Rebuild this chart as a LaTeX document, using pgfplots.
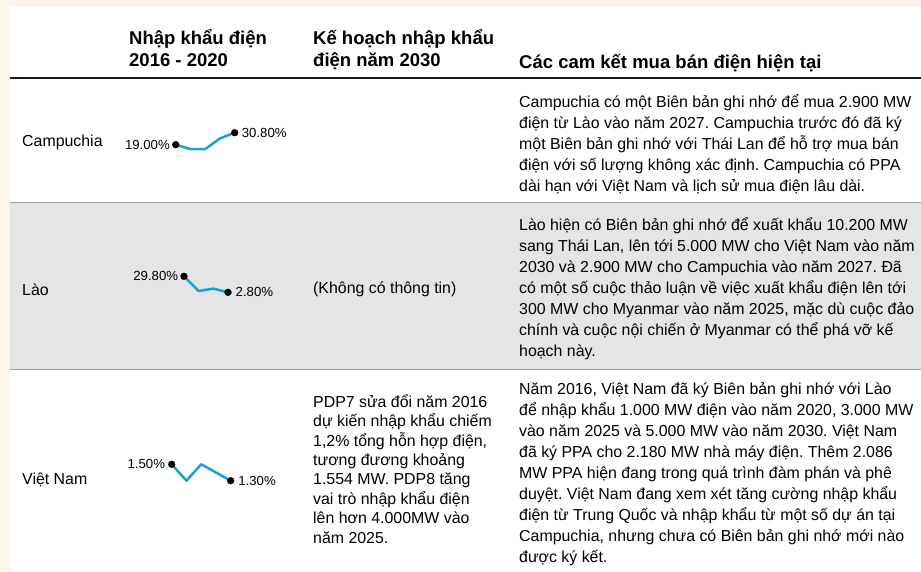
\documentclass[border=0pt]{standalone}
\usepackage{fontspec}
\setmainfont{Liberation Sans}
\usepackage{pgfplots}
\pgfplotsset{compat=1.18}
\frenchspacing

\definecolor{beige}{HTML}{FAF6EA}
\definecolor{rowgray}{HTML}{E4E5E7}
\definecolor{sepgray}{HTML}{A0A0A0}
\definecolor{sparkblue}{HTML}{1BA1CF}

% one node per text line: x, first baseline, line skip, lines
\newcommand{\txtblock}[5]{%
  \foreach \t [count=\i from 0] in {#5} {%
    \node[anchor=base west, inner sep=0pt, font=#4] at (#1pt, {-(#2+#3*\i)*1pt}) {\t};}}

\newcommand{\bodyfont}{\fontsize{15.9pt}{21pt}\selectfont\frenchspacing}
\newcommand{\headfont}{\fontsize{18.5pt}{22pt}\selectfont\bfseries}

\pgfplotsset{
  spark/.style={hide axis, scale only axis, clip=false, anchor=south west},
  sparkline/.style={sparkblue, line width=2.5pt, no markers, line join=round},
  sparkdots/.style={only marks, mark=*, mark size=3.4pt, black},
}
\tikzset{sparklbl/.style={font=\fontsize{13.2pt}{15pt}\selectfont, inner sep=0pt}}

\begin{document}
\begin{tikzpicture}
\useasboundingbox (0pt,0pt) rectangle (921pt,-571pt);
\fill[white] (0pt,0pt) rectangle (921pt,-571pt);
\fill[beige] (0pt,0pt) rectangle (921pt,-7pt);
\fill[beige] (0pt,0pt) rectangle (9.5pt,-571pt);
\fill[rowgray] (9.5pt,-203pt) rectangle (921pt,-369pt);
\draw[sepgray, line width=1.4pt] (9.5pt,-202.3pt) -- (921pt,-202.3pt);
\draw[sepgray, line width=1.4pt] (9.5pt,-369.2pt) -- (921pt,-369.2pt);
\draw[black!90, line width=2.7pt] (9.5pt,-78pt) -- (921pt,-78pt);

% header
\txtblock{129}{44}{22}{\headfont}{{Nhập khẩu điện},{2016 - 2020}}
\txtblock{313}{44}{22}{\headfont}{{Kế hoạch nhập khẩu},{điện năm 2030}}
\txtblock{519}{68}{22}{\headfont}{{Các cam kết mua bán điện hiện tại}}

% row labels
\txtblock{22}{146}{21}{\bodyfont}{{Campuchia}}
\txtblock{22}{295}{21}{\bodyfont}{{Lào}}
\txtblock{22}{484}{21}{\bodyfont}{{Việt Nam}}

% plans column
\txtblock{313}{293}{21}{\bodyfont}{{(Không có thông tin)}}
\txtblock{313}{407.3}{19.4}{\bodyfont}{{PDP7 sửa đổi năm 2016},{dự kiến nhập khẩu chiếm},{1,2\% tổng hỗn hợp điện,},{tương đương khoảng},{1.554 MW. PDP8 tăng},{vai trò nhập khẩu điện},{lên hơn 4.000MW vào},{năm 2025.}}

% commitments column
\txtblock{519}{107}{21}{\bodyfont}{{Campuchia có một Biên bản ghi nhớ để mua 2.900 MW},{điện từ Lào vào năm 2027. Campuchia trước đó đã ký},{một Biên bản ghi nhớ với Thái Lan để hỗ trợ mua bán},{điện với số lượng không xác định. Campuchia có PPA},{dài hạn với Việt Nam và lịch sử mua điện lâu dài.}}
\txtblock{519}{230}{21}{\bodyfont}{{Lào hiện có Biên bản ghi nhớ để xuất khẩu 10.200 MW},{sang Thái Lan, lên tới 5.000 MW cho Việt Nam vào năm},{2030 và 2.900 MW cho Campuchia vào năm 2027. Đã},{có một số cuộc thảo luận về việc xuất khẩu điện lên tới},{300 MW cho Myanmar vào năm 2025, mặc dù cuộc đảo},{chính và cuộc nội chiến ở Myanmar có thể phá vỡ kế},{hoạch này.}}
\txtblock{519}{394}{21}{\bodyfont}{{Năm 2016, Việt Nam đã ký Biên bản ghi nhớ với Lào},{để nhập khẩu 1.000 MW điện vào năm 2020, 3.000 MW},{vào năm 2025 và 5.000 MW vào năm 2030. Việt Nam},{đã ký PPA cho 2.180 MW nhà máy điện. Thêm 2.086},{MW PPA hiện đang trong quá trình đàm phán và phê},{duyệt. Việt Nam đang xem xét tăng cường nhập khẩu},{điện từ Trung Quốc và nhập khẩu từ một số dự án tại},{Campuchia, nhưng chưa có Biên bản ghi nhớ mới nào},{được ký kết.}}

% sparklines 2016-2020 (import share, %)
\begin{axis}[spark, at={(175.7pt,-149.1pt)}, width=59pt, height=16.4pt,
  xmin=0, xmax=4, ymin=14.7, ymax=30.8]
\addplot[sparkline] coordinates {(0,19.0)(1,14.7)(2,14.7)(3,25.2)(4,30.8)};
\addplot[sparkdots] coordinates {(0,19.0)(4,30.8)};
\node[sparklbl, anchor=east] at (axis cs:0,19.0) [xshift=-5.7pt] {19.00\%};
\node[sparklbl, anchor=west] at (axis cs:4,30.8) [xshift=7pt] {30.80\%};
\end{axis}

\begin{axis}[spark, at={(184pt,-292.3pt)}, width=44pt, height=16pt,
  xmin=0, xmax=3, ymin=2.8, ymax=29.8]
\addplot[sparkline] coordinates {(0,29.8)(1,5.05)(2,9.0)(3,2.8)};
\addplot[sparkdots] coordinates {(0,29.8)(3,2.8)};
\node[sparklbl, anchor=east] at (axis cs:0,29.8) [xshift=-5.7pt] {29.80\%};
\node[sparklbl, anchor=west] at (axis cs:3,2.8) [xshift=7.5pt] {2.80\%};
\end{axis}

\begin{axis}[spark, at={(171.7pt,-480.7pt)}, width=59pt, height=16.4pt,
  xmin=0, xmax=4, ymin=1.3, ymax=1.5]
\addplot[sparkline] coordinates {(0,1.5)(1,1.3)(2,1.5)(3,1.4)(4,1.3)};
\addplot[sparkdots] coordinates {(0,1.5)(4,1.3)};
\node[sparklbl, anchor=east] at (axis cs:0,1.5) [xshift=-6.5pt] {1.50\%};
\node[sparklbl, anchor=west] at (axis cs:4,1.3) [xshift=7.5pt] {1.30\%};
\end{axis}
\end{tikzpicture}
\end{document}
